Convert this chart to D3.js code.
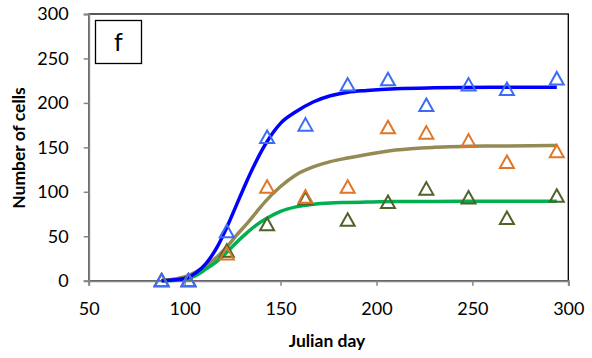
<!DOCTYPE html>
<html>
<head>
<meta charset="utf-8">
<script src="https://cdn.jsdelivr.net/npm/d3@7"></script>
<style>
  body { margin: 0; background: #fff; }
  svg { display: block; font-family: Lato, "Open Sans", sans-serif; }
</style>
</head>
<body>
<div class="chart"></div>
<script>
// observed counts (triangles)
const obsDays = [88, 102, 122, 143, 163, 185, 206, 226, 248, 268, 294];
const blueObs = [0, 0, 55, 161, 175, 220, 226, 197, 220, 215, 227];
const orangeObs = [0, 0, 30, 105, 94, 105, 172, 166, 157, 133, 145];
const oliveObs = [0, 0, 33, 63, 92, 68, 88, 103, 93, 70, 95];

// fitted curves
const fitDays = [88, 95, 101, 106, 111, 117, 122, 127, 132, 137, 142, 150, 158, 167, 176, 185, 195, 210, 230, 260, 294];
const blueFit = [0, 1, 3, 9, 19, 38, 60, 85, 110, 133, 153, 177, 190, 201, 208, 212, 214, 216, 217, 217.5, 217.5];
const brownFit = [0.5, 2, 5, 10, 17, 27, 38, 51, 63, 76, 89, 106, 119, 128, 134, 138, 142, 147, 150, 151.5, 152];
const greenFit = [0, 0.5, 2, 6, 13, 22, 32, 43, 53, 62, 69, 78, 83, 86, 87.5, 88, 88.5, 89, 89, 89.5, 89.5];

const xTicks = [50, 100, 150, 200, 250, 300];
const yTicks = [0, 50, 100, 150, 200, 250, 300];

const w = 592;
const h = 358;
const pLeft = 88.7, pRight = 568.3, pTop = 14, pBottom = 280.7;

const svg = d3.select(".chart")
    .append("svg")
    .attr("width", w)
    .attr("height", h);

const x = d3.scaleLinear().domain([50, 300]).range([pLeft, pRight]);
const y = d3.scaleLinear().domain([0, 300]).range([pBottom, pTop]);

// plot area border
svg.append("rect")
    .attr("x", pLeft)
    .attr("y", pTop)
    .attr("width", pRight - pLeft)
    .attr("height", pBottom - pTop)
    .attr("fill", "none")
    .attr("stroke", "#000")
    .attr("stroke-width", 1.3);

// axes
const xAxis = svg.append("g")
    .attr("transform", `translate(0,${pBottom})`)
    .call(d3.axisBottom(x).tickValues(xTicks).tickSize(5).tickPadding(17));
const yAxis = svg.append("g")
    .attr("transform", `translate(${pLeft},0)`)
    .call(d3.axisLeft(y).tickValues(yTicks).tickSize(5).tickPadding(15));

[xAxis, yAxis].forEach(function (g) {
    g.select(".domain").attr("stroke", "#868686").attr("stroke-width", 2);
    g.selectAll(".tick line").attr("stroke", "#868686").attr("stroke-width", 1.5);
    g.selectAll("text")
        .attr("fill", "#000")
        .style("font-size", "18px")
        .style("font-family", "Lato, 'Open Sans', sans-serif");
});

// fitted lines
const line = d3.line()
    .x(function (d) { return x(d[0]); })
    .y(function (d) { return y(d[1]); })
    .curve(d3.curveMonotoneX);

const fits = [
    { vals: brownFit, color: "#948A54" },
    { vals: greenFit, color: "#00B050" },
    { vals: blueFit, color: "#0000FF" }
];
fits.forEach(function (f) {
    svg.append("path")
        .datum(fitDays.map(function (d, i) { return [d, f.vals[i]]; }))
        .attr("d", line)
        .attr("fill", "none")
        .attr("stroke", f.color)
        .attr("stroke-width", 3.5);
});

// triangle markers
const tri = "M0,-7L7,5.5L-7,5.5Z";
const markers = [
    { vals: oliveObs, color: "#4F6228" },
    { vals: orangeObs, color: "#E07628" },
    { vals: blueObs, color: "#3B6CF5" }
];
markers.forEach(function (m) {
    svg.append("g")
        .selectAll("path")
        .data(obsDays.map(function (d, i) { return [d, m.vals[i]]; }))
        .enter()
        .append("path")
        .attr("d", tri)
        .attr("transform", function (d) { return `translate(${x(d[0])},${y(d[1])})`; })
        .attr("fill", "none")
        .attr("stroke", m.color)
        .attr("stroke-width", 2);
});

// panel label
svg.append("rect")
    .attr("x", 95.5)
    .attr("y", 20.5)
    .attr("width", 46)
    .attr("height", 43)
    .attr("fill", "#fff")
    .attr("stroke", "#000")
    .attr("stroke-width", 1.3);
svg.append("text")
    .attr("x", 118.5)
    .attr("y", 51)
    .attr("text-anchor", "middle")
    .style("font-size", "25px")
    .text("f");

// axis titles
svg.append("text")
    .attr("x", 327)
    .attr("y", 347)
    .attr("text-anchor", "middle")
    .style("font-size", "17.5px")
    .style("font-weight", "bold")
    .text("Julian day");
svg.append("text")
    .attr("text-anchor", "middle")
    .style("font-size", "17.5px")
    .style("font-weight", "bold")
    .attr("transform", "translate(25,148) rotate(-90)")
    .text("Number of cells");
</script>
</body>
</html>
